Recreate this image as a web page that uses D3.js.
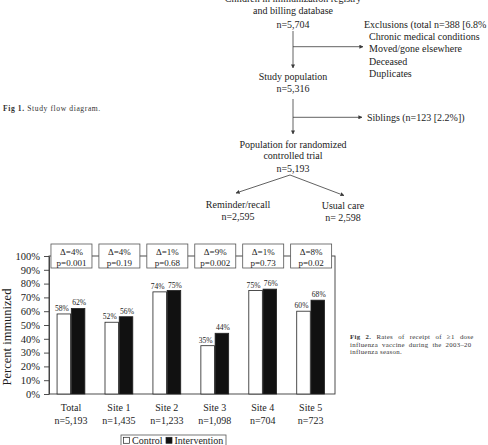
<!DOCTYPE html>
<html>
<head>
<meta charset="utf-8">
<script src="https://cdn.jsdelivr.net/npm/d3@7"></script>
<style>
  body { margin: 0; background: #fff; }
  svg { display: block; }
  svg text { font-family: "Liberation Serif", "Times New Roman", serif; }
</style>
</head>
<body>
<div id="page"></div>
<script>
// Fig 2 data
const sites = ['Total', 'Site 1', 'Site 2', 'Site 3', 'Site 4', 'Site 5'];
const siteN = ['n=5,193', 'n=1,435', 'n=1,233', 'n=1,098', 'n=704', 'n=723'];
const controlPct = [58, 52, 74, 35, 75, 60];
const interventionPct = [62, 56, 75, 44, 76, 68];
const deltaLabels = ['Δ=4%', 'Δ=4%', 'Δ=1%', 'Δ=9%', 'Δ=1%', 'Δ=8%'];
const pLabels = ['p=0.001', 'p=0.19', 'p=0.68', 'p=0.002', 'p=0.73', 'p=0.02'];
const yTicks = [0, 10, 20, 30, 40, 50, 60, 70, 80, 90, 100];
const seriesNames = ['Control', 'Intervention'];

// Fig 1 text
const topBox = ['Children in immunization registry', 'and billing database', 'n=5,704'];
const exclusions = ['Exclusions (total n=388 [6.8%', 'Chronic medical conditions', 'Moved/gone elsewhere', 'Deceased', 'Duplicates'];
const studyBox = ['Study population', 'n=5,316'];
const siblingsText = 'Siblings (n=123 [2.2%])';
const rctBox = ['Population for randomized', 'controlled trial', 'n=5,193'];
const armBoxes = [['Reminder/recall', 'n=2,595'], ['Usual care', 'n= 2,598']];

const serif = '"Liberation Serif", "Times New Roman", serif';
const ink = '#1c1c1c';
const lineInk = '#3a3a3a';

let svg = d3.select('#page').append('svg')
  .attr('width', 488)
  .attr('height', 445)
  .attr('font-family', serif);

svg.append('rect').attr('width', 488).attr('height', 445).attr('fill', '#fff');

// arrow marker
svg.append('defs').append('marker')
  .attr('id', 'arrow')
  .attr('viewBox', '0 0 10 10')
  .attr('refX', 9).attr('refY', 5)
  .attr('markerWidth', 4).attr('markerHeight', 4)
  .attr('markerUnits', 'userSpaceOnUse')
  .attr('orient', 'auto')
  .append('path')
  .attr('d', 'M0,0 L10,5 L0,10 Z')
  .attr('fill', lineInk);

// ---------- Fig 1: flow diagram ----------
let flow = svg.append('g')
  .attr('font-size', 10)
  .attr('fill', ink);

let fx = 293;

function centredLines(lines, cx, baselines) {
  lines.forEach((t, i) => {
    flow.append('text')
      .attr('x', cx)
      .attr('y', baselines[i])
      .attr('text-anchor', 'middle')
      .text(t);
  });
}

function arrow(x1, y1, x2, y2) {
  flow.append('line')
    .attr('x1', x1).attr('y1', y1)
    .attr('x2', x2).attr('y2', y2)
    .attr('stroke', lineInk)
    .attr('stroke-width', 0.8)
    .attr('marker-end', 'url(#arrow)');
}

centredLines(topBox, fx, [2, 14.2, 27.5]);
arrow(fx, 31, fx, 68);
arrow(fx, 46.7, 363, 46.7);

exclusions.forEach((t, i) => {
  flow.append('text')
    .attr('x', i === 0 ? 364 : 369)
    .attr('y', 27.8 + i * 12.25)
    .text(t);
});

centredLines(studyBox, fx, [79.5, 91.8]);
arrow(fx, 99, fx, 134);
arrow(fx, 117.3, 362, 117.3);
flow.append('text').attr('x', 367).attr('y', 120.8).text(siblingsText);

centredLines(rctBox, fx, [147.8, 159.4, 171.8]);
arrow(290, 175, 236, 193);
arrow(290, 175, 344, 195.5);
centredLines(armBoxes[0], 238, [207.8, 220.2]);
centredLines(armBoxes[1], 343, [208.5, 220.6]);

svg.append('text')
  .attr('x', 3).attr('y', 110.5)
  .attr('font-size', 7.6)
  .attr('letter-spacing', 0.6)
  .attr('fill', '#333')
  .call(t => {
    t.append('tspan').attr('font-weight', 'bold').text('Fig 1.');
    t.append('tspan').text(' Study flow diagram.');
  });

// ---------- Fig 2: bar chart ----------
let x = d3.scaleBand()
  .domain(sites)
  .range([47, 334.6])
  .paddingInner(0.42)
  .paddingOuter(0.21);

let xSub = d3.scaleBand()
  .domain(seriesNames)
  .range([0, x.bandwidth()])
  .paddingInner(0.05);

let y = d3.scaleLinear()
  .domain([0, 100])
  .range([394, 256]);

let axisLeftX = 49;
let frameRight = 335;

let chart = svg.append('g');

// frame
chart.append('rect')
  .attr('x', axisLeftX)
  .attr('y', y(100))
  .attr('width', frameRight - axisLeftX)
  .attr('height', y(0) - y(100))
  .attr('fill', 'none')
  .attr('stroke', lineInk)
  .attr('stroke-width', 0.9);

// y axis
let yAxis = chart.append('g')
  .attr('transform', `translate(${axisLeftX},0)`)
  .call(d3.axisLeft(y).tickValues(yTicks).tickFormat(d => d + '%').tickSize(5).tickSizeOuter(0).tickPadding(4));
yAxis.attr('font-family', serif);
yAxis.select('.domain').attr('stroke', lineInk).attr('stroke-width', 0.9);
yAxis.selectAll('.tick line').attr('stroke', lineInk).attr('stroke-width', 0.9);
yAxis.selectAll('.tick text')
  .attr('fill', ink)
  .attr('font-size', 10.5);

chart.append('text')
  .attr('transform', `translate(11, ${(y(0) + y(100)) / 2 + 12}) rotate(-90)`)
  .attr('text-anchor', 'middle')
  .attr('font-size', 12.5)
  .attr('fill', ink)
  .text('Percent immunized');

// bars
let rows = sites.map((s, i) => ({
  site: s,
  values: [
    { key: 'Control', value: controlPct[i] },
    { key: 'Intervention', value: interventionPct[i] }
  ]
}));

let groupsSel = chart.selectAll('.site')
  .data(rows)
  .enter()
  .append('g')
  .attr('class', 'site')
  .attr('transform', d => `translate(${x(d.site)},0)`);

groupsSel.selectAll('rect')
  .data(d => d.values)
  .enter()
  .append('rect')
  .attr('x', d => xSub(d.key))
  .attr('y', d => y(d.value))
  .attr('width', xSub.bandwidth())
  .attr('height', d => y(0) - y(d.value))
  .attr('fill', d => d.key === 'Control' ? '#fff' : '#111')
  .attr('stroke', '#222')
  .attr('stroke-width', 0.8);

groupsSel.selectAll('.val')
  .data(d => d.values)
  .enter()
  .append('text')
  .attr('class', 'val')
  .attr('x', d => xSub(d.key) + xSub.bandwidth() / 2 + (d.key === 'Control' ? -2 : 1))
  .attr('y', d => y(d.value) - 3)
  .attr('text-anchor', 'middle')
  .attr('font-size', 7.6)
  .attr('fill', ink)
  .text(d => d.value + '%');

// delta / p boxes on the top line
let boxW = 41, boxTop = 244, boxH = 24;
let boxes = chart.selectAll('.dbox')
  .data(sites)
  .enter()
  .append('g')
  .attr('class', 'dbox')
  .attr('transform', d => `translate(${x(d) + x.bandwidth() / 2},0)`);

boxes.append('rect')
  .attr('x', -boxW / 2 + 0.5)
  .attr('y', boxTop)
  .attr('width', boxW)
  .attr('height', boxH)
  .attr('fill', '#fff')
  .attr('stroke', '#555')
  .attr('stroke-width', 0.8);

boxes.append('text')
  .attr('x', 0.5)
  .attr('y', boxTop + 10.5)
  .attr('text-anchor', 'middle')
  .attr('font-size', 9)
  .attr('fill', ink)
  .text((d, i) => deltaLabels[i]);

boxes.append('text')
  .attr('x', 0.5)
  .attr('y', boxTop + 21.5)
  .attr('text-anchor', 'middle')
  .attr('font-size', 9)
  .attr('fill', ink)
  .text((d, i) => pLabels[i]);

// x labels
let xl = chart.selectAll('.xl')
  .data(sites)
  .enter()
  .append('g')
  .attr('class', 'xl')
  .attr('transform', d => `translate(${x(d) + x.bandwidth() / 2},0)`);

xl.append('text')
  .attr('y', 411.2)
  .attr('text-anchor', 'middle')
  .attr('font-size', 10)
  .attr('fill', ink)
  .text(d => d);

xl.append('text')
  .attr('y', 423.6)
  .attr('text-anchor', 'middle')
  .attr('font-size', 10)
  .attr('fill', ink)
  .text((d, i) => siteN[i]);

// legend
let legend = chart.append('g');
legend.append('rect')
  .attr('x', 121).attr('y', 435)
  .attr('width', 105).attr('height', 15)
  .attr('fill', '#fff')
  .attr('stroke', '#555')
  .attr('stroke-width', 0.8);

let legendX = [123.5, 166];
seriesNames.forEach((name, i) => {
  legend.append('rect')
    .attr('x', legendX[i]).attr('y', 437.3)
    .attr('width', 6).attr('height', 6)
    .attr('fill', i === 0 ? '#fff' : '#111')
    .attr('stroke', '#222')
    .attr('stroke-width', 0.7);
  legend.append('text')
    .attr('x', legendX[i] + 8.5).attr('y', 443.6)
    .attr('font-size', 10)
    .attr('fill', ink)
    .text(name);
});

// Fig 2 caption
let cap = svg.append('g')
  .attr('font-size', 6.8)
  .attr('letter-spacing', 0.3)
  .attr('fill', '#333');

cap.append('text')
  .attr('x', 350).attr('y', 339.2)
  .attr('word-spacing', 3.2)
  .call(t => {
    t.append('tspan').attr('font-weight', 'bold').text('Fig 2.');
    t.append('tspan').text(' Rates of receipt of ≥1 dose');
  });
cap.append('text')
  .attr('x', 350).attr('y', 346.5)
  .attr('word-spacing', 2)
  .text('influenza vaccine during the 2003–20');
cap.append('text')
  .attr('x', 350).attr('y', 353.8)
  .text('influenza season.');
</script>
</body>
</html>
